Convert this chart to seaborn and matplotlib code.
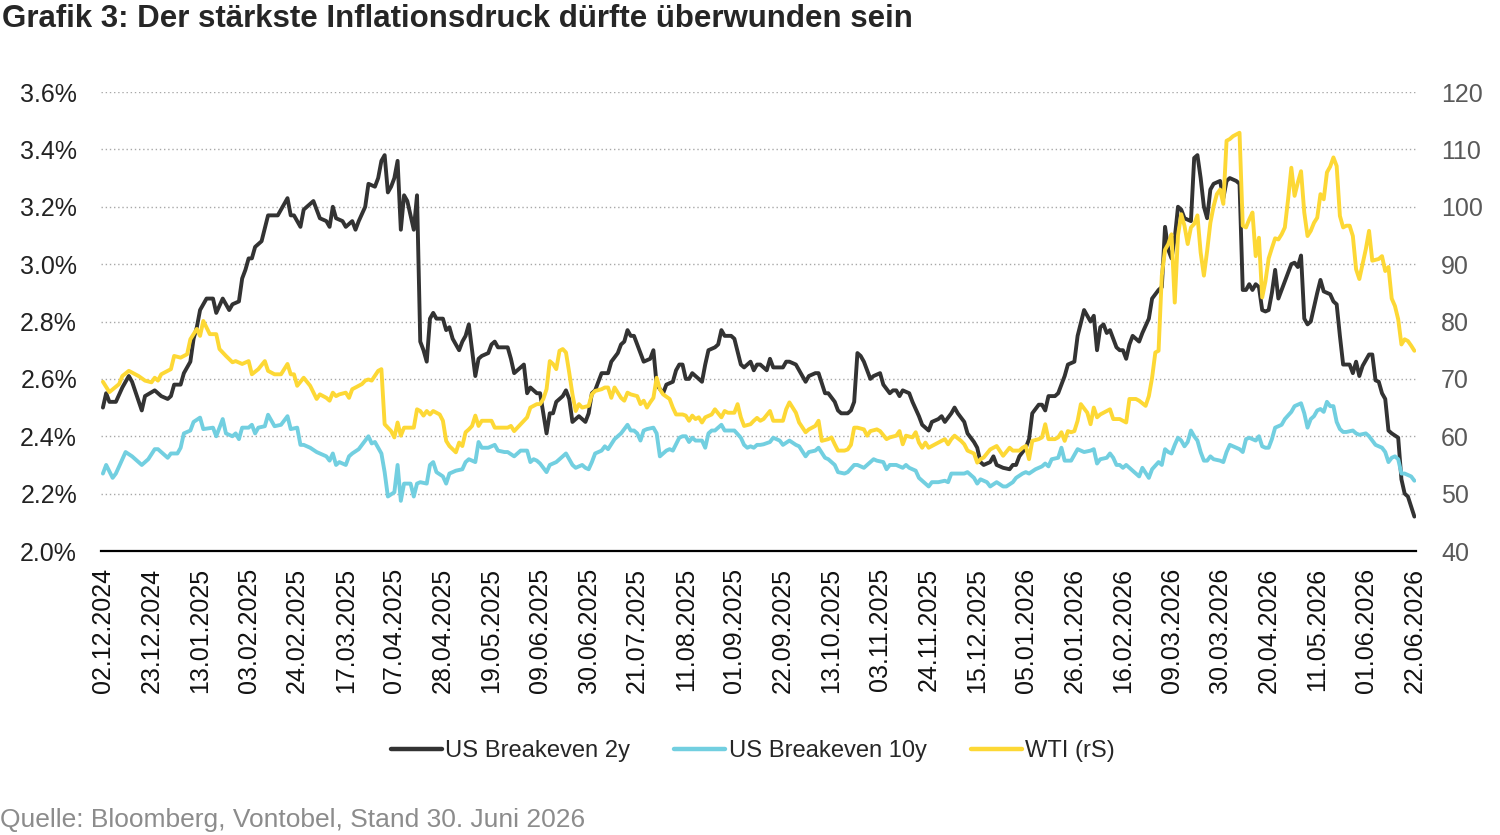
import matplotlib
matplotlib.use('Agg')
import matplotlib.pyplot as plt
import seaborn as sns
import numpy as np
import pandas as pd
from matplotlib.lines import Line2D

sns.set_style('white')
plt.rcParams['font.family'] = ['Liberation Sans', 'DejaVu Sans']

# business-day axis: day 0 = 02.12.2024, day 405 = 22.06.2026
first_day = '2024-12-02'
n_days = 406
tick_step = 15

title = 'Grafik 3: Der stärkste Inflationsdruck dürfte überwunden sein'
source = 'Quelle: Bloomberg, Vontobel, Stand 30. Juni 2026'
names = ['US Breakeven 2y', 'US Breakeven 10y', 'WTI (rS)']

# US Breakeven 2y (%)
be2y_day = [0, 1, 2, 4, 6, 8, 9, 12, 13, 16, 18, 20, 21, 22, 24, 25, 27, 28, 29, 30,
            32, 34, 35, 37, 39, 40, 42, 43, 44, 45, 46, 47, 49, 51, 54, 57, 58, 59, 61, 62,
            64, 65, 67, 69, 70, 71, 72, 74, 75, 77, 78, 79, 81, 82, 84, 85, 86, 87, 88, 89,
            90, 91, 92, 93, 94, 95, 96, 97, 98, 99, 100, 101, 102, 103, 105, 106, 107, 108, 109, 110,
            111, 112, 113, 114, 115, 116, 117, 119, 120, 121, 122, 125, 126, 127, 130, 131, 132, 134, 135, 136,
            137, 138, 139, 140, 142, 143, 144, 145, 147, 149, 150, 151, 152, 153, 154, 156, 157, 159, 160, 161,
            162, 163, 164, 166, 167, 169, 170, 171, 173, 174, 176, 177, 178, 179, 180, 181, 182, 183, 185, 186,
            187, 189, 190, 191, 192, 194, 195, 197, 198, 200, 201, 202, 203, 205, 206, 207, 210, 211, 212, 214,
            215, 217, 218, 220, 221, 223, 224, 226, 227, 228, 230, 231, 232, 233, 234, 235, 237, 238, 240, 241,
            243, 244, 245, 246, 247, 249, 250, 252, 253, 255, 256, 258, 259, 260, 262, 263, 264, 266, 267, 269,
            270, 271, 272, 274, 275, 276, 278, 280, 281, 282, 283, 285, 286, 287, 289, 290, 291, 292, 294, 295,
            296, 297, 298, 300, 301, 303, 304, 305, 306, 307, 308, 309, 310, 311, 313, 314, 315, 316, 317, 318,
            319, 320, 321, 323, 324, 326, 327, 328, 329, 330, 331, 332, 333, 334, 335, 336, 337, 338, 339, 340,
            341, 342, 343, 345, 346, 347, 348, 350, 351, 352, 353, 354, 355, 356, 357, 358, 359, 360, 361, 362,
            363, 365, 366, 367, 368, 369, 370, 371, 372, 373, 374, 375, 376, 377, 379, 380, 381, 382, 383, 385,
            386, 387, 388, 389, 391, 392, 393, 394, 395, 396, 397, 398, 400, 401, 402, 403, 405]
be2y = [2.50, 2.55, 2.52, 2.52, 2.57, 2.61, 2.59, 2.49, 2.54, 2.56, 2.54, 2.53, 2.54, 2.58, 2.58, 2.62, 2.66, 2.74, 2.78, 2.84,
        2.88, 2.88, 2.83, 2.88, 2.84, 2.86, 2.87, 2.95, 2.98, 3.02, 3.02, 3.06, 3.08, 3.17, 3.17, 3.23, 3.17, 3.17, 3.13, 3.19,
        3.21, 3.22, 3.16, 3.15, 3.13, 3.20, 3.16, 3.15, 3.13, 3.15, 3.12, 3.15, 3.20, 3.28, 3.27, 3.30, 3.36, 3.38, 3.25, 3.27,
        3.30, 3.36, 3.12, 3.24, 3.22, 3.17, 3.12, 3.24, 2.73, 2.70, 2.66, 2.81, 2.83, 2.81, 2.81, 2.77, 2.78, 2.74, 2.72, 2.70,
        2.73, 2.75, 2.79, 2.70, 2.61, 2.67, 2.68, 2.69, 2.72, 2.73, 2.71, 2.71, 2.67, 2.62, 2.65, 2.55, 2.57, 2.55, 2.55, 2.48,
        2.41, 2.48, 2.48, 2.52, 2.54, 2.56, 2.53, 2.45, 2.47, 2.45, 2.48, 2.55, 2.56, 2.59, 2.62, 2.62, 2.66, 2.69, 2.72, 2.73,
        2.77, 2.75, 2.75, 2.69, 2.66, 2.67, 2.70, 2.58, 2.55, 2.58, 2.59, 2.63, 2.65, 2.65, 2.60, 2.60, 2.62, 2.61, 2.59, 2.65,
        2.70, 2.71, 2.72, 2.77, 2.75, 2.75, 2.74, 2.65, 2.64, 2.66, 2.63, 2.65, 2.65, 2.63, 2.67, 2.64, 2.64, 2.66, 2.66, 2.65,
        2.63, 2.59, 2.61, 2.62, 2.62, 2.55, 2.55, 2.52, 2.49, 2.48, 2.48, 2.49, 2.52, 2.69, 2.68, 2.66, 2.60, 2.61, 2.62, 2.58,
        2.55, 2.56, 2.56, 2.54, 2.56, 2.55, 2.52, 2.47, 2.44, 2.42, 2.45, 2.46, 2.47, 2.45, 2.48, 2.50, 2.48, 2.45, 2.41, 2.38,
        2.36, 2.31, 2.30, 2.31, 2.33, 2.30, 2.29, 2.285, 2.30, 2.30, 2.33, 2.36, 2.39, 2.48, 2.51, 2.51, 2.49, 2.54, 2.54, 2.55,
        2.58, 2.61, 2.65, 2.66, 2.75, 2.84, 2.82, 2.80, 2.82, 2.70, 2.78, 2.79, 2.76, 2.77, 2.71, 2.70, 2.70, 2.67, 2.72, 2.75,
        2.74, 2.73, 2.76, 2.81, 2.88, 2.91, 2.92, 3.13, 3.05, 3.02, 3.09, 3.20, 3.19, 3.16, 3.155, 3.15, 3.37, 3.38, 3.30, 3.20,
        3.16, 3.26, 3.28, 3.29, 3.23, 3.29, 3.30, 3.29, 3.28, 2.91, 2.91, 2.93, 2.91, 2.93, 2.92, 2.84, 2.835, 2.84, 2.90, 2.98,
        2.88, 2.94, 2.97, 3.00, 3.005, 2.99, 3.03, 2.81, 2.79, 2.80, 2.85, 2.90, 2.945, 2.905, 2.895, 2.87, 2.86, 2.75, 2.65, 2.65,
        2.62, 2.66, 2.61, 2.645, 2.685, 2.685, 2.595, 2.59, 2.55, 2.53, 2.42, 2.41, 2.395, 2.25, 2.20, 2.19, 2.12]

# US Breakeven 10y (%)
be10y_day = [0, 1, 3, 4, 6, 7, 9, 10, 12, 14, 16, 17, 20, 21, 23, 24, 25, 27, 28, 30,
             31, 34, 35, 37, 38, 40, 41, 42, 43, 45, 46, 47, 48, 50, 51, 53, 55, 57, 58, 60,
             61, 62, 64, 66, 67, 69, 70, 71, 72, 73, 75, 76, 77, 79, 80, 82, 83, 84, 86, 87,
             88, 90, 91, 92, 93, 95, 96, 97, 98, 100, 101, 102, 103, 105, 106, 107, 109, 111, 112, 113,
             114, 115, 116, 117, 119, 121, 122, 124, 125, 127, 128, 129, 131, 132, 133, 134, 135, 136, 137, 138,
             140, 141, 143, 144, 145, 146, 148, 149, 150, 151, 152, 154, 155, 156, 158, 159, 160, 162, 163, 164,
             165, 166, 167, 168, 170, 171, 172, 174, 175, 176, 178, 179, 180, 181, 182, 183, 185, 186, 187, 188,
             189, 191, 192, 194, 195, 197, 198, 199, 200, 201, 202, 203, 204, 206, 207, 209, 210, 212, 214, 215,
             217, 218, 220, 221, 223, 224, 226, 227, 229, 230, 232, 233, 235, 236, 238, 239, 241, 242, 243, 245,
             247, 248, 249, 251, 252, 253, 255, 256, 258, 260, 261, 262, 266, 267, 269, 270, 271, 273, 274, 276,
             278, 279, 281, 282, 284, 285, 286, 288, 290, 291, 292, 293, 295, 296, 297, 299, 301, 302, 303, 305,
             306, 307, 308, 310, 311, 312, 313, 314, 315, 316, 317, 319, 320, 321, 323, 324, 326, 327, 328, 329,
             330, 331, 332, 333, 334, 335, 336, 337, 338, 339, 340, 341, 342, 343, 345, 346, 347, 348, 349, 351,
             352, 353, 354, 355, 356, 357, 358, 359, 360, 361, 362, 364, 365, 367, 368, 370, 371, 372, 373, 374,
             375, 376, 377, 378, 379, 380, 381, 382, 383, 384, 386, 387, 388, 390, 391, 392, 393, 395, 396, 397,
             398, 399, 400, 401, 402, 404, 405]
be10y = [2.27, 2.30, 2.255, 2.27, 2.32, 2.345, 2.33, 2.32, 2.30, 2.32, 2.355, 2.355, 2.325, 2.34, 2.34, 2.36, 2.41, 2.42, 2.45, 2.465,
         2.425, 2.43, 2.40, 2.46, 2.41, 2.40, 2.41, 2.39, 2.43, 2.43, 2.44, 2.41, 2.43, 2.435, 2.475, 2.435, 2.44, 2.47, 2.425, 2.43,
         2.37, 2.37, 2.36, 2.345, 2.34, 2.33, 2.315, 2.34, 2.30, 2.31, 2.30, 2.33, 2.34, 2.355, 2.37, 2.40, 2.375, 2.38, 2.34, 2.275,
         2.19, 2.205, 2.30, 2.175, 2.235, 2.235, 2.19, 2.235, 2.24, 2.235, 2.30, 2.31, 2.275, 2.26, 2.235, 2.27, 2.28, 2.285, 2.31, 2.32,
         2.315, 2.31, 2.38, 2.36, 2.36, 2.37, 2.35, 2.345, 2.345, 2.33, 2.34, 2.35, 2.35, 2.31, 2.32, 2.315, 2.305, 2.29, 2.275, 2.30,
         2.31, 2.32, 2.34, 2.32, 2.30, 2.29, 2.30, 2.29, 2.285, 2.31, 2.34, 2.35, 2.365, 2.355, 2.39, 2.40, 2.41, 2.44, 2.42, 2.42,
         2.41, 2.385, 2.42, 2.425, 2.43, 2.41, 2.33, 2.35, 2.355, 2.35, 2.395, 2.40, 2.40, 2.38, 2.395, 2.385, 2.385, 2.36, 2.41, 2.42,
         2.42, 2.44, 2.42, 2.42, 2.42, 2.395, 2.37, 2.36, 2.365, 2.36, 2.37, 2.37, 2.372, 2.38, 2.395, 2.385, 2.37, 2.385, 2.37, 2.365,
         2.33, 2.345, 2.35, 2.36, 2.325, 2.32, 2.30, 2.275, 2.27, 2.275, 2.30, 2.30, 2.29, 2.30, 2.32, 2.315, 2.31, 2.285, 2.30, 2.30,
         2.29, 2.30, 2.29, 2.28, 2.255, 2.245, 2.225, 2.24, 2.24, 2.245, 2.24, 2.27, 2.27, 2.275, 2.255, 2.235, 2.25, 2.24, 2.225, 2.24,
         2.225, 2.225, 2.24, 2.255, 2.27, 2.275, 2.27, 2.285, 2.295, 2.305, 2.295, 2.32, 2.325, 2.36, 2.315, 2.315, 2.355, 2.35, 2.345, 2.35,
         2.355, 2.305, 2.32, 2.325, 2.34, 2.325, 2.30, 2.30, 2.29, 2.30, 2.29, 2.27, 2.26, 2.29, 2.255, 2.285, 2.31, 2.30, 2.355, 2.345,
         2.34, 2.37, 2.395, 2.385, 2.365, 2.38, 2.42, 2.40, 2.385, 2.345, 2.315, 2.315, 2.33, 2.32, 2.315, 2.31, 2.345, 2.37, 2.365, 2.355,
         2.345, 2.39, 2.395, 2.39, 2.385, 2.40, 2.365, 2.36, 2.36, 2.39, 2.43, 2.44, 2.46, 2.485, 2.505, 2.515, 2.48, 2.43, 2.46, 2.47,
         2.49, 2.495, 2.485, 2.52, 2.505, 2.505, 2.45, 2.425, 2.415, 2.415, 2.42, 2.41, 2.405, 2.41, 2.40, 2.385, 2.37, 2.36, 2.345, 2.31,
         2.325, 2.33, 2.32, 2.27, 2.27, 2.26, 2.245]

# WTI (USD, right axis)
wti_day = [0, 2, 5, 6, 8, 11, 13, 15, 16, 17, 18, 21, 22, 24, 26, 27, 29, 30, 31, 33,
           35, 36, 38, 40, 41, 43, 45, 46, 48, 50, 51, 53, 55, 57, 58, 59, 60, 62, 64, 66,
           67, 69, 70, 71, 72, 73, 75, 76, 77, 78, 80, 81, 82, 83, 85, 86, 87, 89, 90, 91,
           92, 93, 96, 97, 98, 99, 100, 101, 102, 104, 105, 106, 107, 109, 110, 111, 112, 113, 114, 115,
           116, 117, 120, 121, 125, 126, 127, 128, 130, 131, 132, 134, 135, 136, 137, 138, 139, 140, 141, 142,
           143, 144, 145, 146, 147, 148, 150, 151, 152, 154, 155, 156, 157, 158, 159, 160, 161, 162, 163, 165,
           166, 167, 168, 169, 170, 171, 172, 173, 175, 176, 177, 179, 180, 181, 182, 183, 184, 185, 186, 188,
           189, 190, 191, 192, 193, 195, 196, 197, 198, 200, 201, 202, 203, 204, 206, 207, 209, 210, 211, 212,
           214, 215, 217, 218, 220, 221, 222, 224, 225, 226, 227, 229, 230, 231, 232, 233, 235, 236, 237, 239,
           240, 242, 243, 245, 246, 247, 248, 250, 251, 252, 253, 254, 255, 257, 258, 260, 261, 262, 263, 265,
           266, 267, 269, 270, 271, 272, 274, 276, 278, 280, 281, 283, 284, 285, 286, 287, 289, 290, 291, 292,
           294, 295, 296, 297, 298, 299, 300, 301, 302, 304, 305, 306, 307, 308, 310, 311, 312, 314, 316, 317,
           319, 320, 322, 323, 324, 325, 326, 327, 328, 329, 330, 331, 332, 333, 334, 335, 336, 337, 338, 339,
           340, 341, 342, 343, 344, 345, 346, 347, 348, 349, 350, 351, 352, 353, 354, 355, 356, 357, 358, 359,
           360, 361, 362, 363, 364, 365, 366, 367, 368, 369, 370, 371, 372, 373, 374, 375, 376, 377, 378, 379,
           380, 381, 382, 383, 384, 385, 386, 387, 388, 389, 390, 391, 392, 394, 395, 396, 397, 398, 399, 400,
           401, 402, 403, 404, 405]
wti = [69.5, 67.7, 69.1, 70.5, 71.4, 70.5, 69.7, 69.4, 70.2, 69.7, 70.8, 71.7, 74.0, 73.7, 74.3, 76.9, 78.7, 77.5, 80.1, 77.8,
       77.8, 75.2, 74.0, 72.9, 73.1, 72.6, 73.1, 70.8, 71.7, 73.1, 71.4, 70.8, 70.8, 72.6, 70.8, 70.8, 68.8, 70.2, 68.8, 66.5,
       67.3, 66.7, 66.2, 67.6, 67.0, 67.3, 67.6, 66.7, 68.2, 68.5, 69.1, 69.7, 69.9, 69.7, 71.4, 71.7, 62.1, 60.9, 59.8, 62.4,
       60.1, 61.5, 61.5, 64.7, 64.4, 63.6, 64.4, 63.8, 64.4, 63.8, 62.7, 59.2, 58.3, 57.2, 58.9, 58.3, 60.7, 61.2, 61.8, 63.6,
       61.8, 62.7, 62.7, 61.5, 61.5, 61.8, 60.9, 61.5, 62.7, 63.3, 65.0, 65.6, 65.6, 66.5, 68.2, 73.1, 72.6, 71.7, 74.9, 75.2,
       74.6, 71.1, 67.3, 64.4, 65.6, 65.0, 65.3, 67.3, 67.9, 68.2, 68.5, 68.5, 66.7, 68.5, 67.6, 66.7, 66.2, 67.6, 67.3, 67.0,
       65.6, 66.2, 65.0, 65.9, 66.7, 70.2, 68.2, 67.3, 66.5, 65.0, 63.8, 63.8, 63.6, 62.7, 63.6, 63.0, 63.3, 62.4, 63.3, 63.8,
       64.7, 64.0, 63.3, 64.4, 64.1, 64.1, 65.6, 63.3, 61.8, 62.1, 62.7, 63.2, 62.7, 63.0, 64.4, 62.7, 62.7, 62.7, 64.7, 65.9,
       64.1, 62.4, 60.7, 61.2, 61.8, 62.7, 59.2, 59.5, 59.8, 58.6, 57.5, 57.5, 57.7, 58.5, 61.5, 61.5, 61.2, 60.1, 60.9, 61.2,
       60.9, 59.5, 59.8, 60.1, 60.9, 58.6, 60.1, 59.8, 60.7, 58.9, 58.0, 58.9, 58.0, 58.6, 58.9, 59.5, 58.6, 59.5, 60.1, 59.2,
       58.6, 57.5, 57.0, 55.4, 56.0, 56.3, 57.7, 58.3, 56.6, 58.0, 57.5, 57.5, 58.0, 58.3, 56.0, 59.2, 59.5, 59.8, 62.1, 59.5,
       59.5, 59.8, 60.7, 59.2, 60.9, 60.7, 60.9, 62.7, 65.6, 64.1, 62.1, 65.0, 63.3, 63.8, 64.4, 64.7, 63.0, 63.0, 62.4, 66.5,
       66.5, 66.2, 65.3, 67.0, 70.2, 74.6, 74.9, 88.0, 92.5, 93.5, 95.2, 83.3, 95.0, 98.7, 96.7, 93.5, 96.4, 97.0, 98.5, 92.0,
       88.0, 92.3, 97.2, 100.1, 102.2, 103.0, 100.5, 111.5, 111.8, 112.3, 112.6, 112.9, 96.7, 96.4, 97.8, 99.0, 91.4, 94.6, 84.2, 87.0,
       91.0, 92.8, 94.5, 94.3, 95.2, 96.4, 101.3, 106.8, 101.9, 104.2, 106.2, 99.0, 94.9, 95.8, 97.2, 98.1, 102.2, 101.3, 106.0, 107.0,
       108.6, 107.1, 98.4, 96.4, 96.7, 96.7, 94.9, 89.1, 87.4, 90.0, 92.6, 95.8, 90.6, 90.9, 91.4, 88.8, 89.5, 84.0, 82.7, 80.4,
       76.0, 76.9, 76.6, 75.8, 74.9]

pct_ticks = [2.0, 2.2, 2.4, 2.6, 2.8, 3.0, 3.2, 3.4, 3.6]
wti_ticks = [40, 50, 60, 70, 80, 90, 100, 110, 120]

col_2y = '#333333'
col_10y = '#72CFE0'
col_wti = '#FDD835'

dates = pd.bdate_range(first_day, periods=n_days)
tick_days = list(range(0, n_days, tick_step))
tick_labels = [dates[d].strftime('%d.%m.%Y') for d in tick_days]

fig = plt.figure(figsize=(15, 8.35), dpi=100)
ax = fig.add_axes([0.0671, 0.3401, 0.8769, 0.5497])
ax2 = ax.twinx()

sns.lineplot(x=be2y_day, y=be2y, ax=ax, color=col_2y, lw=2.8, errorbar=None, legend=False)
sns.lineplot(x=be10y_day, y=be10y, ax=ax, color=col_10y, lw=2.8, errorbar=None, legend=False)
sns.lineplot(x=wti_day, y=wti, ax=ax2, color=col_wti, lw=2.8, errorbar=None, legend=False)

ax.set_xlim(-0.7, 405.5)
ax.set_ylim(2.0, 3.6)
ax2.set_ylim(40, 120)

ax.set_xticks(tick_days)
ax.set_xticklabels(tick_labels, rotation=90, fontsize=18, color='#111111')
ax.set_yticks(pct_ticks)
ax.set_yticklabels(['{:.1f}%'.format(v) for v in pct_ticks], fontsize=18, color='#222222')
ax2.set_yticks(wti_ticks)
ax2.set_yticklabels([str(v) for v in wti_ticks], fontsize=18, color='#595959')

ax.tick_params(axis='x', length=0, pad=12)
ax.tick_params(axis='y', length=0, pad=17)
ax2.tick_params(axis='y', length=0, pad=18)

ax.yaxis.grid(True, linestyle=(0, (1, 2)), color='#a8a8a8', lw=1)
ax.set_axisbelow(True)
ax.set_xlabel('')
ax.set_ylabel('')
ax2.set_ylabel('')

for s in ['top', 'left', 'right']:
    ax.spines[s].set_visible(False)
for s in ax2.spines:
    ax2.spines[s].set_visible(False)
ax.spines['bottom'].set_color('black')
ax.spines['bottom'].set_linewidth(1.6)

handles = [Line2D([], [], color=c, lw=3.2) for c in [col_2y, col_10y, col_wti]]
fig.legend(handles, names, loc='center', bbox_to_anchor=(753 / 1500, 1 - 751 / 835), ncol=3,
           frameon=False, fontsize=17.1, handlelength=2.15, handletextpad=0.15, columnspacing=1.85)

fig.text(0.001, 1 - 19 / 835, title, fontsize=22.5, fontweight='bold', va='center', ha='left')
fig.text(0.0, 1 - 820 / 835, source, fontsize=19, color='#8c8c8c', va='center', ha='left')

fig.savefig('out.png', dpi=100)
